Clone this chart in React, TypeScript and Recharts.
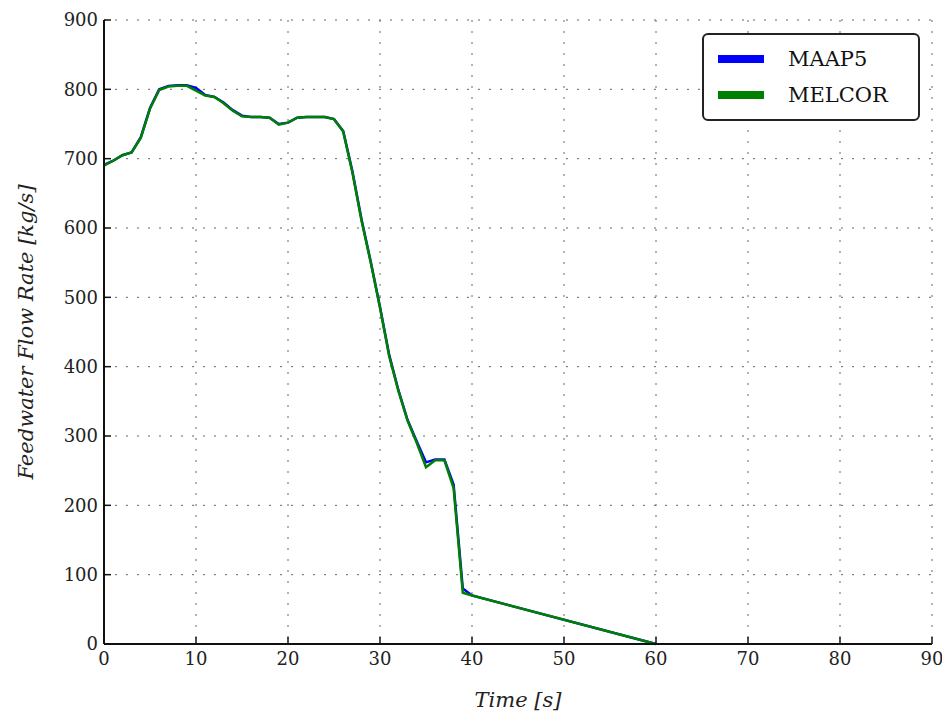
import { LineChart, Line, XAxis, YAxis, CartesianGrid } from 'recharts';

const times = [0, 1, 2, 3, 4, 5, 6, 7, 8, 9, 10, 11, 12, 13, 14, 15, 16, 17, 18, 19, 20, 21, 22, 23, 24, 25, 26, 27, 28, 29, 30, 31, 32, 33, 34, 35, 36, 37, 38, 39, 40, 60];
const maap5 = [691, 697, 705, 709, 731, 773, 800, 805, 806, 806, 802, 792, 789, 781, 770, 762, 760, 760, 759, 750, 752, 759, 760, 760, 760, 757, 740, 682, 612, 551, 486, 417, 366, 323, 292, 262, 266, 266, 230, 80, 70, 0];
const melcor = [690, 697, 705, 709, 730, 772, 799, 804, 805, 805, 798, 791, 789, 780, 769, 761, 760, 760, 759, 749, 752, 759, 760, 760, 760, 757, 739, 680, 610, 550, 485, 415, 365, 322, 290, 255, 265, 265, 225, 74, 70, 0];
const xTicks = [0, 10, 20, 30, 40, 50, 60, 70, 80, 90];
const yTicks = [0, 100, 200, 300, 400, 500, 600, 700, 800, 900];

const seriesNames = ['MAAP5', 'MELCOR'];
const seriesColors = ['#0000ff', '#008000'];

const rows = times.map((t, i) => ({ t, maap5: maap5[i], melcor: melcor[i] }));

const FONT = '"DejaVu Serif", serif';
const tickStyle = { fontFamily: FONT, fontSize: 18, fill: '#222' };
const frame = { stroke: '#111', strokeWidth: 2 };
const tickMark = { stroke: '#111', strokeWidth: 1.5 };

function LegendBox() {
  return (
    <div
      style={{
        position: 'absolute',
        left: 702,
        top: 33,
        width: 186,
        border: '2px solid #222',
        borderRadius: 6,
        background: '#fff',
        padding: '6px 14px',
        fontFamily: FONT,
        fontSize: 21,
        color: '#111',
      }}
    >
      {seriesNames.map((name, i) => (
        <div key={name} style={{ display: 'flex', alignItems: 'center', height: 36 }}>
          <div style={{ width: 46, height: 8, background: seriesColors[i], marginRight: 24 }} />
          <span>{name}</span>
        </div>
      ))}
    </div>
  );
}

export default function App() {
  return (
    <div style={{ margin: -8, background: '#fff', width: 950, height: 719, position: 'relative' }}>
      <LineChart width={950} height={719} data={rows} margin={{ top: 20, right: 18, bottom: 0, left: 0 }}>
        <CartesianGrid stroke="#666" strokeDasharray="2 9" />
        <XAxis
          dataKey="t"
          type="number"
          domain={[0, 90]}
          ticks={xTicks}
          tick={tickStyle}
          tickLine={tickMark}
          tickSize={-7}
          axisLine={frame}
          tickMargin={15}
          height={75}
          label={{ value: 'Time [s]', position: 'insideBottom', offset: 12, style: { fontFamily: FONT, fontSize: 21, fontStyle: 'italic', fill: '#222' } }}
        />
        <XAxis xAxisId="top" orientation="top" dataKey="t" type="number" domain={[0, 90]} ticks={xTicks} tick={false} tickLine={tickMark} tickSize={-7} axisLine={frame} height={0} />
        <YAxis
          type="number"
          domain={[0, 900]}
          ticks={yTicks}
          tick={tickStyle}
          tickLine={tickMark}
          tickSize={-7}
          axisLine={frame}
          width={104}
          tickMargin={13}
          label={{ value: 'Feedwater Flow Rate [kg/s]', angle: -90, position: 'insideLeft', offset: 26, style: { textAnchor: 'middle', fontFamily: FONT, fontSize: 21, fontStyle: 'italic', fill: '#222' } }}
        />
        <YAxis yAxisId="right" orientation="right" domain={[0, 900]} ticks={yTicks} tick={false} tickLine={tickMark} tickSize={-7} axisLine={frame} width={0} />
        <Line type="linear" dataKey="maap5" name="MAAP5" stroke={seriesColors[0]} strokeWidth={2.5} dot={false} isAnimationActive={false} />
        <Line type="linear" dataKey="melcor" name="MELCOR" stroke={seriesColors[1]} strokeWidth={2.5} dot={false} isAnimationActive={false} />
      </LineChart>
      <LegendBox />
    </div>
  );
}
